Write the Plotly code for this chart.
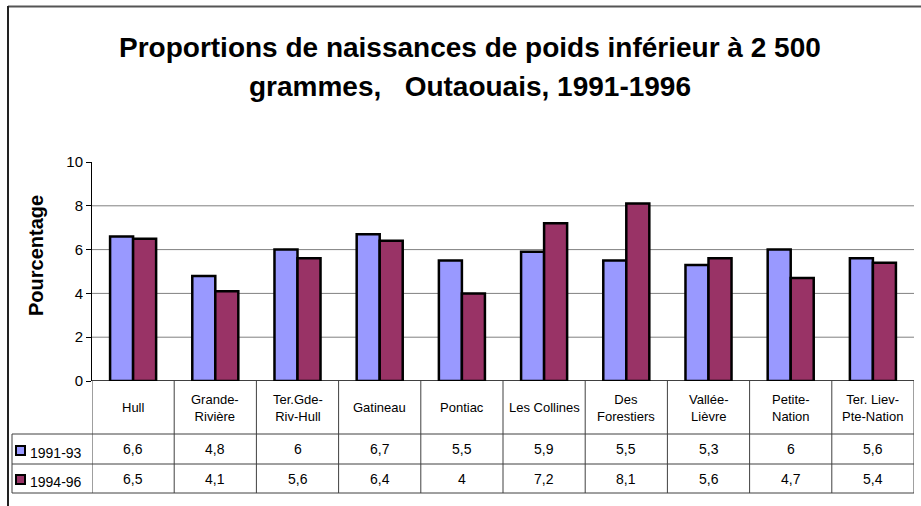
import plotly.graph_objects as go

categories = ["Hull", "Grande-<br>Rivière", "Ter.Gde-<br>Riv-Hull", "Gatineau", "Pontiac",
              "Les Collines", "Des<br>Forestiers", "Vallée-<br>Lièvre", "Petite-<br>Nation",
              "Ter. Liev-<br>Pte-Nation"]
series_names = ["1991-93", "1994-96"]
values_9193 = [6.6, 4.8, 6, 6.7, 5.5, 5.9, 5.5, 5.3, 6, 5.6]
values_9496 = [6.5, 4.1, 5.6, 6.4, 4, 7.2, 8.1, 5.6, 4.7, 5.4]
colors = ["#9999FF", "#993366"]
y_ticks = [0, 2, 4, 6, 8, 10]
title_lines = ["Proportions de naissances de poids inférieur à 2 500",
               "grammes,\u00a0\u00a0 Outaouais, 1991-1996"]

W, H = 921, 506
SX0, SX1, SY0, SY1 = 92, 914, 162, 381
L = SX0
R = W - SX1
T = SY0
B = H - SY1
PW = SX1 - SX0
PH = SY1 - SY0
FONT = "Liberation Sans, Arial, sans-serif"


def px_x(x):
    return (x - SX0) / PW


def px_y(y):
    return (SY1 - y) / PH


n = len(categories)
xs = list(range(n))
fig = go.Figure()
for name, vals, col in zip(series_names, [values_9193, values_9496], colors):
    fig.add_trace(go.Bar(x=xs, y=vals, name=name, marker=dict(color=col, line=dict(color="black", width=2.5)),
                         showlegend=False, hoverinfo="skip"))

shapes = []
for t in y_ticks[1:-1]:
    shapes.append(dict(type="line", xref="paper", yref="y", x0=0, x1=1, y0=t, y1=t,
                       line=dict(color="#808080", width=1), layer="below"))
shapes.append(dict(type="line", xref="paper", yref="y", x0=0, x1=1, y0=0, y1=0,
                   line=dict(color="black", width=1.5)))
row_ys = [434, 464, 493]
for ry in row_ys:
    shapes.append(dict(type="line", xref="paper", yref="paper", x0=px_x(12), x1=1, y0=px_y(ry), y1=px_y(ry),
                       line=dict(color="#404040", width=1)))
for k in range(n + 1):
    shapes.append(dict(type="line", xref="x", yref="paper", x0=k - 0.5, x1=k - 0.5, y0=0, y1=px_y(493),
                       line=dict(color="#404040", width=1)))
shapes.append(dict(type="line", xref="paper", yref="paper", x0=px_x(12), x1=px_x(12), y0=px_y(434), y1=px_y(493),
                   line=dict(color="#404040", width=1)))
for i, col in enumerate(colors):
    yc = [450.5, 479.5][i]
    shapes.append(dict(type="rect", xref="paper", yref="paper", x0=px_x(16), x1=px_x(25),
                       y0=px_y(yc - 4.5), y1=px_y(yc + 4.5), fillcolor=col, line=dict(color="black", width=2)))
shapes.append(dict(type="line", xref="paper", yref="paper", x0=px_x(8), x1=px_x(935), y0=px_y(6.5), y1=px_y(6.5),
                   line=dict(color="#555555", width=2)))
shapes.append(dict(type="line", xref="paper", yref="paper", x0=px_x(8), x1=px_x(8), y0=px_y(6), y1=px_y(520),
                   line=dict(color="#222222", width=2)))

annotations = []
for i, line in enumerate(title_lines):
    annotations.append(dict(text="<b>" + line + "</b>", xref="paper", yref="paper", x=px_x(470),
                            y=px_y([48, 87][i]), xanchor="center", yanchor="middle", showarrow=False,
                            font=dict(family=FONT, size=28, color="black")))
annotations.append(dict(text="<b>Pourcentage</b>", xref="paper", yref="paper", x=px_x(36), y=px_y(256),
                        textangle=-90, showarrow=False, xanchor="center", yanchor="middle",
                        font=dict(family=FONT, size=20, color="black")))
for k, c in enumerate(categories):
    annotations.append(dict(text=c, xref="x", yref="paper", x=k, y=px_y(407.5), showarrow=False,
                            xanchor="center", yanchor="middle", font=dict(family=FONT, size=13, color="black")))
    for j, vals in enumerate([values_9193, values_9496]):
        annotations.append(dict(text=str(vals[k]).replace(".", ","), xref="x", yref="paper", x=k,
                                y=px_y([449, 478.5][j]), showarrow=False, xanchor="center", yanchor="middle",
                                font=dict(family=FONT, size=14, color="black")))
for j, name in enumerate(series_names):
    annotations.append(dict(text=name, xref="paper", yref="paper", x=px_x(28), y=px_y([453, 482][j]),
                            showarrow=False, xanchor="left", yanchor="middle",
                            font=dict(family=FONT, size=14, color="black")))

fig.update_layout(
    width=W, height=H,
    margin=dict(l=L, r=R, t=T, b=B, pad=0),
    paper_bgcolor="white", plot_bgcolor="white",
    barmode="group", bargap=0.44, bargroupgap=0,
    shapes=shapes, annotations=annotations,
    xaxis=dict(range=[-0.5, n - 0.5], showticklabels=False, showgrid=False, zeroline=False, ticks="",
               fixedrange=True),
    yaxis=dict(range=[0, 10], tickvals=y_ticks, showgrid=False, zeroline=False, showline=True,
               linecolor="black", linewidth=1, ticks="outside", ticklen=5, tickcolor="black",
               tickfont=dict(family=FONT, size=15, color="black"), fixedrange=True),
    font=dict(family=FONT),
)

fig.write_html("out.html", config={"displayModeBar": False},
               post_script="document.body.style.margin='0';")
